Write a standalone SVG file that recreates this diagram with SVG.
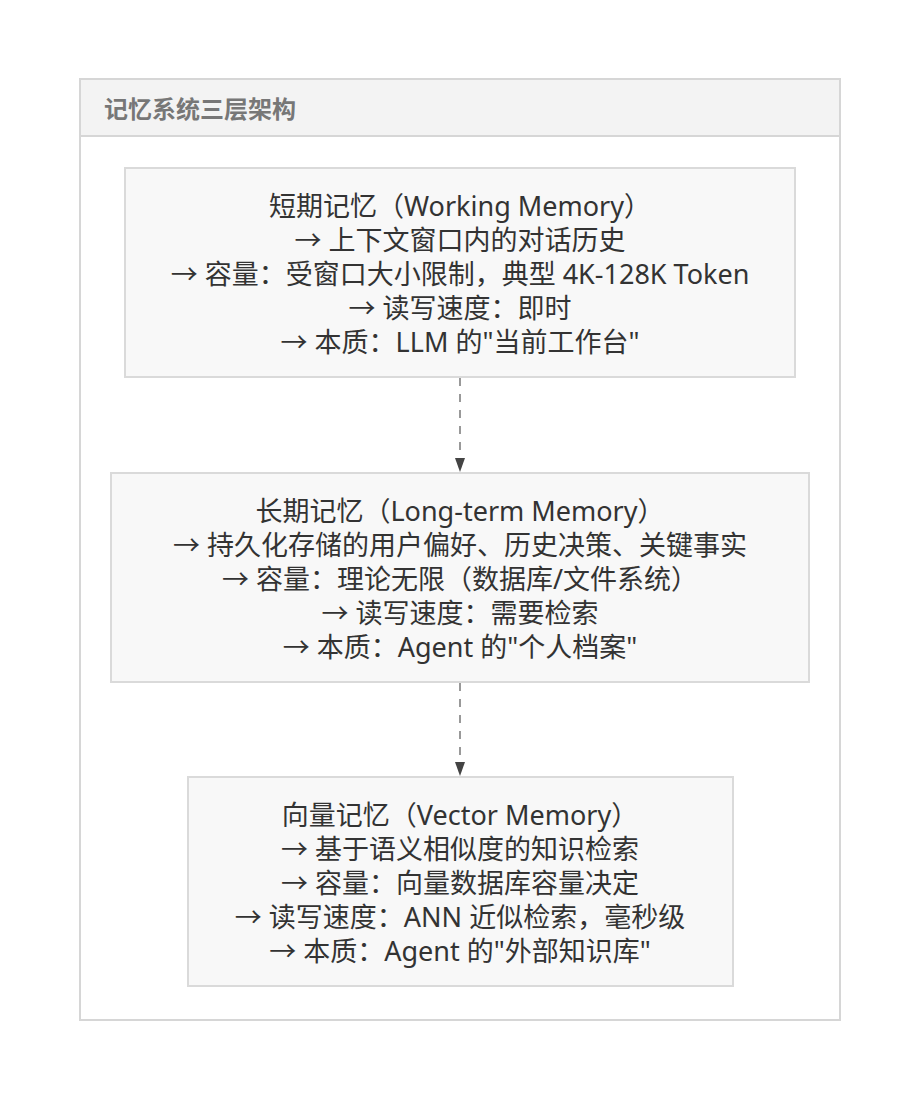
<svg xmlns="http://www.w3.org/2000/svg" width="920" height="1100" viewBox="0 0 920 1100">
<defs>
<style>
.frame{fill:#ffffff;stroke:#d6d6d6;stroke-width:2}
.hdr{fill:#f3f3f3;stroke:#d6d6d6;stroke-width:2}
.title{font-family:"Noto Sans","Noto Sans CJK SC",sans-serif;font-size:24px;font-weight:bold;fill:#777777}
.box{fill:#f8f8f8;stroke:#dadada;stroke-width:2}
.t{font-family:"Noto Sans","Noto Sans CJK SC",sans-serif;font-size:27px;fill:#333333;text-anchor:middle}
.edge{stroke:#999999;stroke-width:2;stroke-dasharray:8 8;fill:none}
</style>
</defs>
<rect width="920" height="1100" fill="#ffffff"/>
<g id="frame">
<rect class="frame" x="80" y="79" width="760" height="941"/>
<rect class="hdr" x="80" y="79" width="760" height="57"/>
<text class="title" x="104" y="118">记忆系统三层架构</text>
</g>
<g id="connectors">
<line class="edge" x1="460" y1="378" x2="460" y2="459"/>
<path d="M455,458 L465,458 L460,472 Z" fill="#444444"/>
<line class="edge" x1="460" y1="683" x2="460" y2="763"/>
<path d="M455,762 L465,762 L460,776 Z" fill="#444444"/>
</g>
<g id="short-term">
<rect class="box" x="125" y="168" width="670" height="209"/>
<text class="t" x="460" y="216">短期记忆（Working Memory）</text>
<text class="t" x="460" y="250">→ 上下文窗口内的对话历史</text>
<text class="t" x="460" y="284">→ 容量：受窗口大小限制，典型 4K-128K Token</text>
<text class="t" x="460" y="318">→ 读写速度：即时</text>
<text class="t" x="460" y="352">→ 本质：LLM 的"当前工作台"</text>
</g>
<g id="long-term">
<rect class="box" x="111" y="473" width="698" height="209"/>
<text class="t" x="460" y="521">长期记忆（Long-term Memory）</text>
<text class="t" x="460" y="555">→ 持久化存储的用户偏好、历史决策、关键事实</text>
<text class="t" x="460" y="589">→ 容量：理论无限（数据库/文件系统）</text>
<text class="t" x="460" y="623">→ 读写速度：需要检索</text>
<text class="t" x="460" y="657">→ 本质：Agent 的"个人档案"</text>
</g>
<g id="vector">
<rect class="box" x="188" y="777" width="545" height="209"/>
<text class="t" x="460" y="825">向量记忆（Vector Memory）</text>
<text class="t" x="460" y="859">→ 基于语义相似度的知识检索</text>
<text class="t" x="460" y="893">→ 容量：向量数据库容量决定</text>
<text class="t" x="460" y="927">→ 读写速度：ANN 近似检索，毫秒级</text>
<text class="t" x="460" y="961">→ 本质：Agent 的"外部知识库"</text>
</g>
</svg>
